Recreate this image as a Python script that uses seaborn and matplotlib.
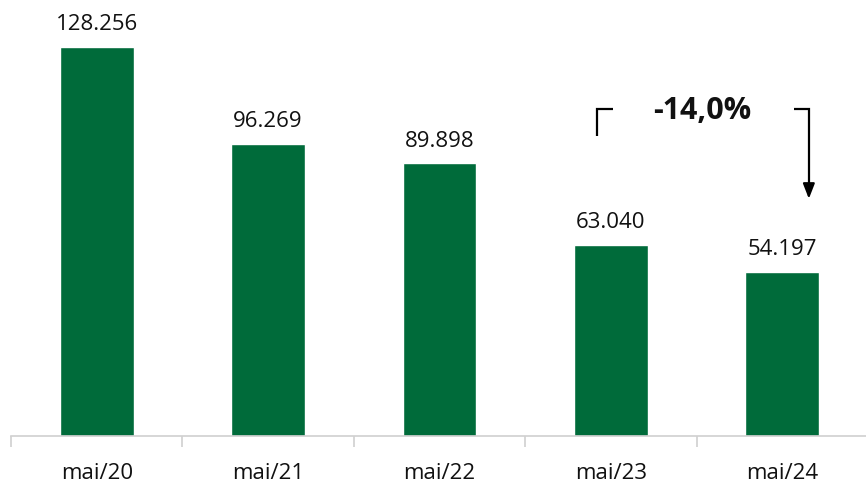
import matplotlib
matplotlib.use("Agg")
import matplotlib.pyplot as plt
import seaborn as sns
import pandas as pd

periods = ['mai/20', 'mai/21', 'mai/22', 'mai/23', 'mai/24']
values = [128256, 96269, 89898, 63040, 54197]
labels = ['128.256', '96.269', '89.898', '63.040', '54.197']
change_label = '-14,0%'

df = pd.DataFrame({'period': periods, 'value': values})

sns.set_style('white')
plt.rcParams['font.family'] = ['Open Sans', 'DejaVu Sans']

fig = plt.figure(figsize=(8.66, 4.85), dpi=100)
ax = fig.add_axes([11 / 866, 48 / 485, 857 / 866, 437 / 485])

sns.barplot(data=df, x='period', y='value', color='#006B3A', saturation=1,
            width=0.43, ax=ax)

ax.set_xlim(-0.5, 4.5)
ax.set_ylim(0, 144100)

# value labels above bars
for i, (v, lab) in enumerate(zip(values, labels)):
    ax.text(i, v + 4200, lab, ha='center', va='bottom', fontsize=16, color='#111111')

# axes styling
for s in ['top', 'right', 'left']:
    ax.spines[s].set_visible(False)
ax.spines['bottom'].set_color('#d0d0d0')
ax.spines['bottom'].set_linewidth(1.2)
ax.set_yticks([])
ax.set_xlabel('')
ax.set_ylabel('')
ax.set_xticks(range(len(periods)))
ax.set_xticklabels(periods, fontsize=16, color='#111111')
ax.tick_params(axis='x', which='major', bottom=True, length=0, pad=19)
ax.set_xticks([i - 0.5 for i in range(len(periods) + 1)], minor=True)
ax.tick_params(axis='x', which='minor', bottom=True, length=8, color='#d0d0d0', width=1.2)

# change annotation bracket
y_top = 107800
ax.plot([2.92, 2.92, 3.01], [98800, y_top, y_top], color='black', lw=1.6,
        solid_capstyle='butt', solid_joinstyle='miter')
ax.plot([4.07, 4.155, 4.155], [y_top, y_top, 80000], color='black', lw=1.6,
        solid_capstyle='butt', solid_joinstyle='miter')
ax.annotate('', xy=(4.155, 77300), xytext=(4.155, 81500),
            arrowprops=dict(arrowstyle='-|>,head_length=0.9,head_width=0.35',
                            color='black', lw=1.6))
ax.text(3.535, 107500, change_label, ha='center', va='center', fontsize=22,
        fontweight='bold', color='#111111')

fig.savefig('out.png', dpi=100)
